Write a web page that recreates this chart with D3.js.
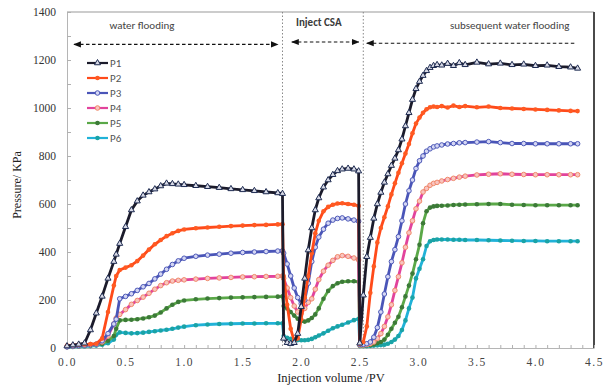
<!DOCTYPE html>
<html><head><meta charset="utf-8">
<script src="https://cdn.jsdelivr.net/npm/d3@7"></script>
<style>
html,body{margin:0;padding:0;background:#fff;}
svg{display:block;}
</style></head>
<body>
<svg id="chart" width="606" height="388"></svg>
<script>
// ---- data ----
const xs = [0.00,0.05,0.10,0.15,0.20,0.25,0.30,0.35,0.40,0.42,0.45,0.50,0.55,0.60,0.65,0.70,0.75,0.80,0.85,0.90,0.95,1.00,1.10,1.20,1.30,1.40,1.50,1.60,1.70,1.80,1.84,
 1.85,1.88,1.91,1.94,1.97,2.00,2.03,2.06,2.09,2.12,2.15,2.19,2.23,2.27,2.31,2.35,2.40,2.45,2.49,
 2.50,2.53,2.56,2.59,2.62,2.65,2.68,2.71,2.74,2.77,2.80,2.83,2.86,2.89,2.92,2.95,2.98,3.01,3.04,3.07,3.10,3.13,3.16,3.20,3.25,3.30,3.35,3.40,3.50,3.60,3.70,3.80,3.90,4.00,4.10,4.20,4.30,4.36];

const p1 = [8,12,15,20,75,145,215,290,360,390,435,505,575,612,636,650,662,675,686,684,682,680,676,672,668,663,659,655,650,646,643,
 40,22,18,22,60,172,290,408,500,575,625,670,700,722,738,745,748,745,737,
 20,220,380,460,540,600,648,690,725,760,790,825,870,925,980,1035,1080,1110,1135,1155,1168,1176,1180,1178,1185,1176,1188,1180,1190,1183,1186,1180,1182,1176,1178,1172,1170,1165];
const p2 = [10,12,14,15,16,18,40,150,260,300,325,335,345,362,385,410,432,450,466,478,488,494,499,502,505,508,510,512,513,515,516,
 300,180,80,30,40,120,210,300,395,478,530,570,588,597,602,603,600,597,592,
 18,25,90,230,340,440,500,545,590,640,686,730,770,810,850,895,935,960,980,995,1003,1006,1004,1008,1002,1010,1004,1008,1003,1006,1000,998,996,994,992,990,988,987];
const p3 = [5,8,10,12,14,16,30,60,100,120,205,215,226,240,255,269,288,308,328,348,363,374,382,387,391,395,398,400,402,404,405,
 395,350,300,250,210,185,200,270,360,420,462,495,520,533,540,542,538,533,528,
 15,15,18,25,45,85,150,225,297,360,410,464,530,600,655,700,748,780,800,820,830,838,842,846,850,852,855,856,858,860,856,852,852,851,851,851,851,851];
const p4 = [5,7,9,11,13,15,25,50,100,125,140,160,182,198,212,228,245,260,272,279,282,284,287,290,292,294,296,297,298,299,300,
 290,250,210,175,150,145,165,190,205,245,285,320,345,365,380,385,382,375,367,
 12,12,14,18,25,40,60,90,130,180,240,297,355,420,480,530,580,612,650,665,678,686,690,696,702,707,712,716,721,724,726,724,723,722,722,722,722,722];
const p5 = [5,6,8,10,12,14,18,30,50,80,115,117,118,120,123,128,135,148,165,180,192,198,203,206,208,210,211,212,213,214,215,
 175,165,150,135,122,113,110,115,125,140,165,205,238,258,270,276,278,278,276,
 10,10,11,12,15,20,25,35,55,80,105,130,170,215,260,310,370,430,520,570,585,590,592,593,594,596,597,598,599,600,600,597,596,595,595,595,595,595];
const p6 = [3,4,5,6,8,10,14,20,35,55,65,63,61,62,64,67,70,73,76,80,85,89,95,98,100,101,102,102,103,103,103,
 50,42,38,35,33,32,32,34,38,45,52,61,72,82,90,97,106,116,122,
 8,8,8,9,10,11,12,14,18,25,35,50,75,115,165,210,290,330,370,425,445,450,452,452,452,451,451,450,450,449,448,447,446,446,445,445,445,445];

const seriesNames = ["P1","P2","P3","P4","P5","P6"];
const seriesValues = [p1,p2,p3,p4,p5,p6];
const xTicks = [0,0.5,1.0,1.5,2.0,2.5,3.0,3.5,4.0,4.5];
const yTicks = [0,200,400,600,800,1000,1200,1400];
const stageLabels = ["water flooding","Inject CSA","subsequent water flooding"];
const stageBounds = [1.84, 2.53];

// ---- styles ----
const lineColors = ["#1b1b2b","#ff4a1a","#4a55b8","#e2439c","#5aa848","#20b2d8"];
const markStroke = ["#1f2c52","#ff5a22","#4e5ab8","#f08a6a","#3c7a38","#1aa3a6"];
const markFill   = ["#d8dae6","#ff5a22","#d4d6f4","#f9c4c0","#3c7a38","#1aa3a6"];
const markType   = ["tri","dot","circ","circ","dot","dot"];

const svg = d3.select("#chart");
const L = 67, R = 594, T = 12, B = 348;
const x = d3.scaleLinear().domain([0,4.5]).range([L,R]);
const y = d3.scaleLinear().domain([0,1400]).range([B,T]);
const serif = "'Liberation Serif','Times New Roman',serif";
const sans = "Carlito,'Liberation Sans','DejaVu Sans',sans-serif";

// frame
svg.append("line").attr("x1",L).attr("x2",R).attr("y1",T).attr("y2",T).attr("stroke","#9a9a9a").attr("stroke-width",1.2);
svg.append("line").attr("x1",R).attr("x2",R).attr("y1",T).attr("y2",B).attr("stroke","#4a4a4a").attr("stroke-width",2);

// y axis
const yAxis = d3.axisLeft(y).tickValues(d3.range(0,1401,100)).tickSizeInner(-4).tickSizeOuter(0)
  .tickFormat(d => yTicks.includes(d) ? d : "");
const gy = svg.append("g").attr("transform",`translate(${L},0)`).call(yAxis);
gy.select(".domain").attr("stroke","#b5b5b5");
gy.selectAll(".tick line").attr("stroke","#b0b0b0");
gy.selectAll(".tick text").attr("x",-11).attr("font-family",serif).attr("font-size",11.5).attr("fill","#333");

// x axis
const xAxis = d3.axisBottom(x).tickValues(d3.range(0,45.1,1).map(d=>d/10)).tickSizeInner(-3).tickSizeOuter(0)
  .tickFormat(d => xTicks.some(t=>Math.abs(t-d)<1e-6) ? d3.format(".1f")(d) : "");
const gx = svg.append("g").attr("transform",`translate(0,${B})`).call(xAxis);
gx.select(".domain").attr("stroke","#b5b5b5");
gx.selectAll(".tick line").attr("stroke","#b0b0b0");
gx.selectAll(".tick text").attr("y",10).attr("font-family",serif).attr("font-size",11.5).attr("fill","#444").attr("letter-spacing","1.5px");

// axis titles
svg.append("text").attr("x",331).attr("y",382).attr("text-anchor","middle")
  .attr("font-family",serif).attr("font-size",12.5).attr("fill","#222").text("Injection volume /PV");
svg.append("text").attr("transform","translate(21,185) rotate(-90)").attr("text-anchor","middle")
  .attr("font-family",serif).attr("font-size",12).attr("fill","#222").text("Pressure/ KPa");

// stage separators
stageBounds.forEach(b => {
  svg.append("line").attr("x1",x(b)).attr("x2",x(b)).attr("y1",T).attr("y2",B)
    .attr("stroke","#888").attr("stroke-width",1).attr("stroke-dasharray","1.5,2");
});

// arrows
const defs = svg.append("defs");
defs.append("marker").attr("id","ah").attr("viewBox","0 0 10 10").attr("refX",9).attr("refY",5)
  .attr("markerWidth",7).attr("markerHeight",7).attr("orient","auto-start-reverse")
  .append("path").attr("d","M0,1L10,5L0,9Z").attr("fill","#111");
const arrows = [
  {x1:0.06, x2:1.80, yy:1265, both:true},
  {x1:1.92, x2:2.49, yy:1275, both:true},
  {x1:2.56, x2:4.35, yy:1270, both:false}
];
arrows.forEach(a => {
  const l = svg.append("line").attr("x1",x(a.x1)).attr("x2",x(a.x2)).attr("y1",y(a.yy)).attr("y2",y(a.yy))
    .attr("stroke","#111").attr("stroke-width",1.1).attr("stroke-dasharray","3.5,2.5")
    .attr("marker-start","url(#ah)");
  if (a.both) l.attr("marker-end","url(#ah)");
});
const labelPos = [{cx:0.64, yy:1330},{cx:2.15, yy:1340},{cx:3.78, yy:1330}];
stageLabels.forEach((t,i) => {
  svg.append("text").attr("x",x(labelPos[i].cx)).attr("y",y(labelPos[i].yy)).attr("text-anchor","middle")
    .attr("font-family",sans).attr("font-size",11).attr("fill", i===1 ? "#3a3a3a" : "#444")
    .attr("font-weight", i===1 ? "bold" : "normal").text(t);
});

// series
const line = d3.line().x(d=>x(d[0])).y(d=>y(d[1]));
const tri = d3.symbol().type(d3.symbolTriangle).size(16);
function drawMarker(g, i, cx, cy) {
  if (markType[i]==="tri") {
    g.append("path").attr("d",tri()).attr("transform",`translate(${cx},${cy})`)
      .attr("fill",markFill[i]).attr("stroke",markStroke[i]).attr("stroke-width",1);
  } else if (markType[i]==="circ") {
    g.append("circle").attr("cx",cx).attr("cy",cy).attr("r",2.3)
      .attr("fill",markFill[i]).attr("stroke",markStroke[i]).attr("stroke-width",1);
  } else {
    g.append("circle").attr("cx",cx).attr("cy",cy).attr("r",2.3).attr("fill",markFill[i]);
  }
}
for (let i = seriesValues.length-1; i >= 0; i--) {
  const pts = xs.map((xv,k)=>[xv, seriesValues[i][k]]);
  const g = svg.append("g");
  g.append("path").datum(pts).attr("d",line).attr("fill","none")
    .attr("stroke",lineColors[i]).attr("stroke-width",2.8).attr("stroke-linejoin","round");
  pts.forEach(p => drawMarker(g, i, x(p[0]), y(p[1])));
}

// legend
seriesNames.forEach((n,i) => {
  const ly = 63 + i*15;
  const g = svg.append("g");
  g.append("line").attr("x1",87).attr("x2",108).attr("y1",ly).attr("y2",ly)
    .attr("stroke",lineColors[i]).attr("stroke-width",2.2);
  drawMarker(g, i, 97.5, ly);
  g.append("text").attr("x",110).attr("y",ly+4).attr("font-family",sans).attr("font-size",11)
    .attr("fill","#555").text(n);
});
</script>
</body></html>
